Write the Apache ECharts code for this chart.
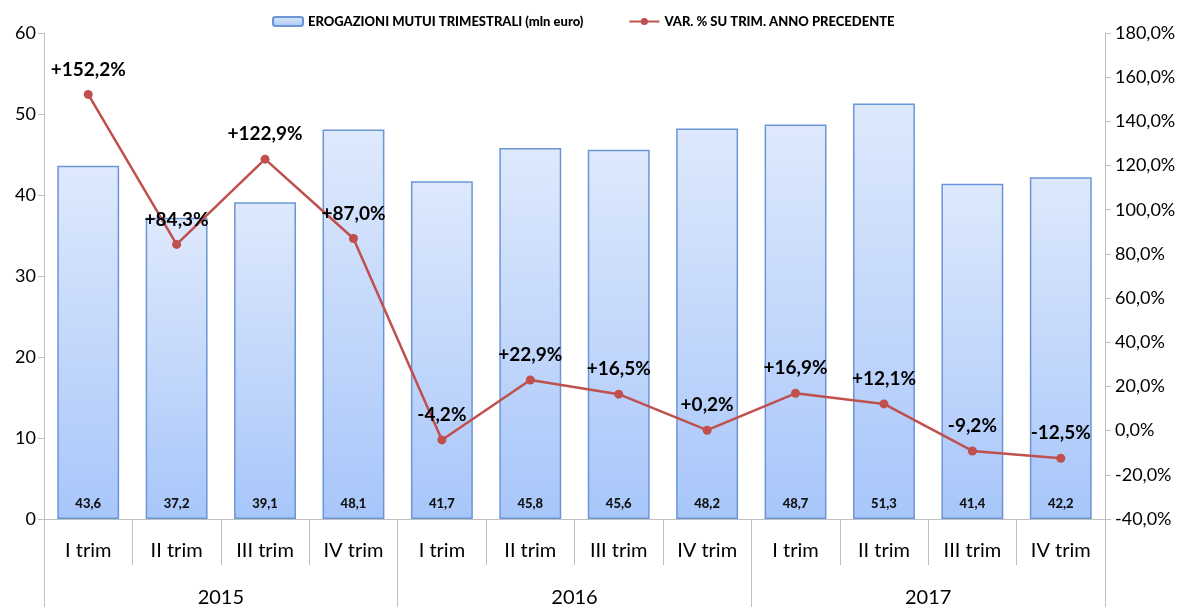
<!DOCTYPE html>
<html>
<head>
<meta charset="utf-8">
<script src="https://cdn.jsdelivr.net/npm/echarts@6/dist/echarts.min.js"></script>
<style>
  html, body { margin: 0; padding: 0; background: #fff; }
  #chart { width: 1178px; height: 607px; }
</style>
</head>
<body>
<div id="chart"></div>
<script>
// Data
var quarters = ['I trim', 'II trim', 'III trim', 'IV trim', 'I trim', 'II trim', 'III trim', 'IV trim', 'I trim', 'II trim', 'III trim', 'IV trim'];
var years = ['2015', '2016', '2017'];
var erogazioni = [43.6, 37.2, 39.1, 48.1, 41.7, 45.8, 45.6, 48.2, 48.7, 51.3, 41.4, 42.2];
var variazione = [152.2, 84.3, 122.9, 87.0, -4.2, 22.9, 16.5, 0.2, 16.9, 12.1, -9.2, -12.5];

var font = 'Lato, "Open Sans", sans-serif';
var axisGray = '#bfbfbf';
var red = '#c0504d';

function comma(v, d) { return v.toFixed(d).replace('.', ','); }

var chart = echarts.init(document.getElementById('chart'), null, { renderer: 'canvas' });
chart.setOption({
  animation: false,
  textStyle: { fontFamily: font },
  legend: {
    top: 10,
    left: 267,
    itemWidth: 30,
    itemHeight: 9,
    itemGap: 45,
    textStyle: { fontFamily: font, fontSize: 13, fontWeight: 900, color: '#000' },
    data: [
      { name: 'EROGAZIONI MUTUI TRIMESTRALI (mln euro)' },
      { name: 'VAR. % SU TRIM. ANNO PRECEDENTE' }
    ]
  },
  grid: { left: 44, right: 73, top: 33, bottom: 88, outerBoundsMode: 'none', containLabel: false },
  xAxis: [{
    type: 'category',
    data: quarters,
    axisLine: { show: true, onZero: false, lineStyle: { color: axisGray } },
    axisTick: { show: true, interval: 0, length: 46, lineStyle: { color: axisGray } },
    axisLabel: { interval: 0, margin: 22, fontSize: 20, color: '#000', fontFamily: font }
  }, {
    type: 'category',
    data: years,
    position: 'bottom',
    axisLine: { show: false, onZero: false },
    axisTick: { show: true, interval: 0, length: 88, lineStyle: { color: axisGray } },
    axisLabel: { interval: 0, margin: 69, fontSize: 20, color: '#000', fontFamily: font }
  }],
  yAxis: [{
    type: 'value',
    min: 0, max: 60, interval: 10,
    axisLine: { show: true, lineStyle: { color: axisGray } },
    axisTick: { show: true, length: 6, lineStyle: { color: axisGray } },
    splitLine: { show: false },
    axisLabel: { fontSize: 18, color: '#000', margin: 8, fontFamily: font }
  }, {
    type: 'value',
    min: -40, max: 180, interval: 20,
    axisLine: { show: true, lineStyle: { color: axisGray } },
    axisTick: { show: true, length: 6, lineStyle: { color: axisGray } },
    splitLine: { show: false },
    axisLabel: {
      fontSize: 18, color: '#000', margin: 10, fontFamily: font,
      formatter: function(v) { return comma(v, 1) + '%'; }
    }
  }],
  series: [{
    name: 'EROGAZIONI MUTUI TRIMESTRALI (mln euro)',
    type: 'bar',
    data: erogazioni,
    barWidth: '70%',
    itemStyle: {
      color: new echarts.graphic.LinearGradient(0, 0, 0, 1, [
        { offset: 0, color: '#dee9fc' },
        { offset: 1, color: '#a8c6fa' }
      ]),
      borderColor: '#6b96d6',
      borderWidth: 1.5
    },
    label: {
      show: true,
      position: 'insideBottom',
      distance: 9,
      fontSize: 13,
      fontWeight: 900,
      color: '#111',
      fontFamily: font,
      formatter: function(p) { return comma(p.value, 1); }
    },
    z: 2
  }, {
    name: 'VAR. % SU TRIM. ANNO PRECEDENTE',
    type: 'line',
    yAxisIndex: 1,
    data: variazione,
    symbol: 'circle',
    symbolSize: 9,
    lineStyle: { color: red, width: 2.5 },
    itemStyle: { color: red },
    label: {
      show: true,
      position: 'top',
      distance: 11,
      fontSize: 19,
      fontWeight: 'bold',
      color: '#000',
      fontFamily: font,
      formatter: function(p) { return (p.value > 0 ? '+' : '') + comma(p.value, 1) + '%'; }
    },
    z: 3
  }]
});
</script>
</body>
</html>
